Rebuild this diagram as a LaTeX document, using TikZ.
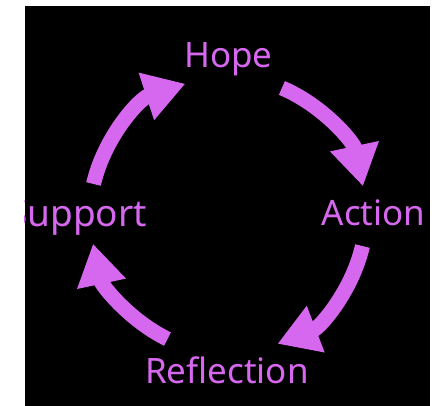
\documentclass[tikz,border=0pt]{standalone}
\usepackage{fontspec}
\setmainfont{Noto Sans}
\usetikzlibrary{arrows.meta}
\definecolor{cyclepink}{RGB}{214,104,240}
\tikzset{
  band/.style={draw=cyclepink, line width=15pt, -{Triangle[length=41pt,width=47pt]}},
  word/.style={text=cyclepink, inner sep=0pt, font=\fontsize{35}{40}\selectfont}
}
\begin{document}
\begin{tikzpicture}[x=1pt,y=1pt]
    \useasboundingbox (-228,-191) rectangle (208,215);
    \path[fill=black] (-203,-191) rectangle (202,209);
    \node[word, anchor=base] (hope) at (0.5,147) {Hope};
    \node[word, anchor=base] (action) at (145.5,-11) {Action};
    \node[word, anchor=base] (reflection) at (-1,-168) {Reflection};
    \begin{scope}
      \clip (-203,-191) rectangle (202,209);
      \node[word, font=\fontsize{37}{40}\selectfont, anchor=base east] (support) at (-81,-12) {Support};
    \end{scope}
    \foreach \n/\s/\e in {sh/167/108, ha/67/12, ar/-13/-69, rs/244/192}
    {
      \coordinate (\n) at (\s:138);
      \path[band] (\n) arc[start angle=\s, end angle=\e, radius=138];
    }
  \end{tikzpicture}
\end{document}
